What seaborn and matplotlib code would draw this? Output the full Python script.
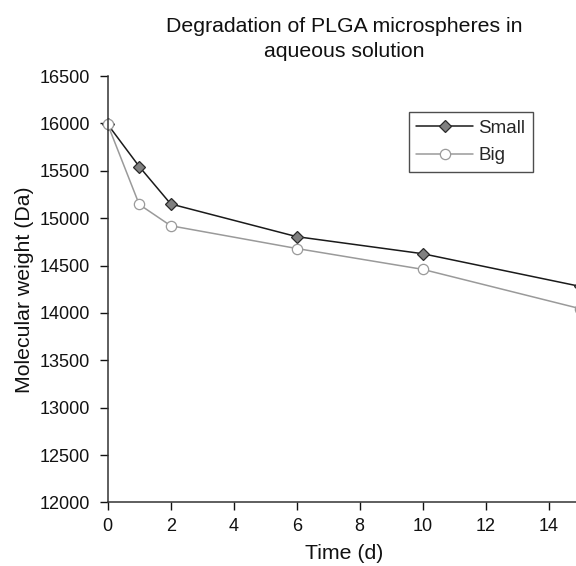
import matplotlib
matplotlib.use("Agg")
import matplotlib.pyplot as plt
import pandas as pd
import seaborn as sns

# Tiempo (días) y peso molecular (Da)
time_days = [0, 1, 2, 6, 10, 15]
mw_small = [15990, 15545, 15150, 14805, 14625, 14280]
mw_big = [15990, 15145, 14920, 14680, 14460, 14045]

x_ticks = [0, 2, 4, 6, 8, 10, 12, 14]
y_ticks = [12000, 12500, 13000, 13500, 14000, 14500, 15000, 15500, 16000, 16500]

sns.set_theme(style="ticks")
plt.rcParams["font.family"] = ["Liberation Sans", "DejaVu Sans"]

df = pd.DataFrame({"time": time_days, "Small": mw_small, "Big": mw_big})

fig = plt.figure(figsize=(5.76, 5.66), dpi=100)
ax = fig.add_axes([0.187, 0.1122, 0.8203, 0.7535])

sns.lineplot(
    data=df, x="time", y="Small", ax=ax, color="#1a1a1a", linewidth=1.1,
    marker="D", markersize=6.2, markerfacecolor="#808080",
    markeredgecolor="#2a2a2a", markeredgewidth=0.9, label="Small", clip_on=False,
)
sns.lineplot(
    data=df, x="time", y="Big", ax=ax, color="#9a9a9a", linewidth=1.1,
    marker="o", markersize=7.4, markerfacecolor="white",
    markeredgecolor="#9a9a9a", markeredgewidth=0.9, label="Big", clip_on=False,
)

ax.set_xlim(0, 15)
ax.set_ylim(12000, 16500)
ax.set_xticks(x_ticks)
ax.set_yticks(y_ticks)
ax.tick_params(axis="both", labelsize=13, colors="#111111", length=6, width=1.0)
ax.tick_params(axis="y", pad=6.5)
ax.tick_params(axis="x", pad=5)
for side in ("top", "right"):
    ax.spines[side].set_visible(False)
for side in ("left", "bottom"):
    ax.spines[side].set_color("#333333")
    ax.spines[side].set_linewidth(1.1)

ax.set_xlabel("Time (d)", fontsize=15.3, color="#111111", labelpad=7)
ax.set_ylabel("Molecular weight (Da)", fontsize=15.3, color="#111111", labelpad=4)
ax.set_title("Degradation of PLGA microspheres in\naqueous solution",
             fontsize=15.3, color="#111111", pad=14, linespacing=1.4)

leg = ax.legend(
    loc="upper left", bbox_to_anchor=(0.710, 0.802), bbox_transform=fig.transFigure,
    borderaxespad=0, fontsize=13.5, frameon=True, fancybox=False, handlelength=3.0,
    handletextpad=0.3, borderpad=0.4, labelspacing=0.55,
)
leg.get_frame().set_edgecolor("#222222")
leg.get_frame().set_linewidth(1.0)

fig.savefig("out.png", dpi=100)
